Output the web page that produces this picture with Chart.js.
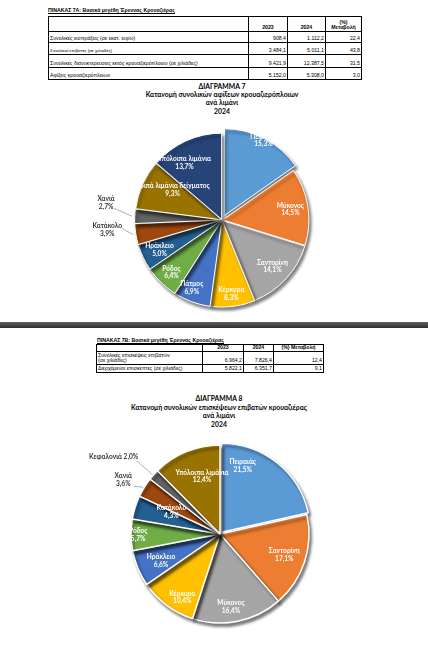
<!DOCTYPE html>
<html><head><meta charset="utf-8">
<script src="https://cdn.jsdelivr.net/npm/chart.js@4.4.1/dist/chart.umd.min.js"></script>
<style>
html,body{margin:0;padding:0;background:#fff;}
body{width:428px;height:648px;position:relative;overflow:hidden;font-family:"Liberation Sans",Arial,sans-serif;color:#000;}
.tt{position:absolute;font-size:5.2px;font-weight:bold;text-decoration:underline;white-space:nowrap;line-height:6px;}
table{border-collapse:collapse;table-layout:fixed;position:absolute;font-size:5.2px;border:1.5px solid #000;}
td{padding:0 1px 0 1px;border-left:1px solid #000;border-right:1px solid #000;border-bottom:1.5px solid #000;white-space:nowrap;vertical-align:bottom;line-height:5.6px;overflow:hidden;}
.num{text-align:right;}
.hd{text-align:center;font-weight:bold;}
.title{position:absolute;text-align:center;font-family:Lato,"Open Sans",sans-serif;font-weight:bold;font-size:6.8px;white-space:nowrap;transform:translateX(-50%);}
.band{position:absolute;left:0;top:322px;width:428px;height:6px;background:linear-gradient(#606060,#2e2e2e);}
canvas{position:absolute;left:0;}
</style></head>
<body>
<div class="tt" style="left:48px;top:7px">ΠΙΝΑΚΑΣ 7Α: Βασικά μεγέθη Έρευνας Κρουαζιέρας</div>
<table id="tA" style="left:48px;top:16px;width:313px"></table>

<div class="title" id="t7" style="left:222px;top:82px;line-height:8.2px"></div>
<canvas id="c7" width="428" height="208" style="top:112px"></canvas>

<div class="band"></div>

<div class="tt" style="left:97px;top:337px">ΠΙΝΑΚΑΣ 7Β: Βασικά μεγέθη Έρευνας Κρουαζιέρας</div>
<table id="tB" style="left:96px;top:344px;width:227px"></table>

<div class="title" id="t8" style="left:219px;top:394px;line-height:8.6px"></div>
<canvas id="c8" width="428" height="210" style="top:428px"></canvas>

<script>
// ---------- data ----------
const yearCols = ['2023', '2024'];
const changeHeadA = ['(%)', 'Μεταβολή'];
const rowsA = ['Συνολικές εισπράξεις (σε εκατ. ευρώ)', 'Συνολικοί επιβάτες (σε χιλιάδες)', 'Συνολικές διανυκτερεύσεις εκτός κρουαζιερόπλοιου (σε χιλιάδες)', 'Αφίξεις κρουαζιερόπλοιων'];
const valsA2023 = [908.4, 3484.1, 9421.9, 5152.0];
const valsA2024 = [1112.2, 5011.1, 12387.5, 5308.0];
const changeA = [22.4, 43.8, 31.5, 3.0];

const rowsB = [['Συνολικές επισκέψεις επιβατών', '(σε χιλιάδες)'], ['Διερχόμενοι επισκέπτες  (σε χιλιάδες)']];
const valsB2023 = [6964.2, 5822.1];
const valsB2024 = [7826.4, 6351.7];
const changeB = [12.4, 9.1];

const title7 = ['ΔΙΑΓΡΑΜΜΑ 7', 'Κατανομή συνολικών αφίξεων κρουαζιερόπλοιων', 'ανά λιμάνι', '2024'];
const ports7 = ['Πειραιάς', 'Μύκονος', 'Σαντορίνη', 'Κέρκυρα', 'Πάτμος', 'Ρόδος', 'Ηράκλειο', 'Κατάκολο', 'Χανιά', 'Λοιπά λιμάνια δείγματος', 'Υπόλοιπα λιμάνια'];
const shares7 = [15.3, 14.5, 14.1, 8.3, 6.9, 6.4, 5.0, 3.9, 2.7, 9.3, 13.7];

const title8 = ['ΔΙΑΓΡΑΜΜΑ 8', 'Κατανομή συνολικών επισκέψεων επιβατών κρουαζιέρας', 'ανά λιμάνι', '2024'];
const ports8 = ['Πειραιάς', 'Σαντορίνη', 'Μύκονος', 'Κέρκυρα', 'Ηράκλειο', 'Ρόδος', 'Κατάκολο', 'Χανιά', 'Κεφαλονιά', 'Υπόλοιπα λιμάνια'];
const shares8 = [21.5, 17.1, 16.4, 10.4, 6.6, 5.7, 4.3, 3.6, 2.0, 12.4];

// ---------- helpers ----------
const palette = ['#5B9BD5', '#ED7D31', '#A5A5A5', '#FFC000', '#4472C4', '#70AD47', '#255E91', '#9E480E', '#636363', '#997300', '#264478'];
function fmt(v) {
  const parts = v.toFixed(1).split('.');
  return parts[0].replace(/\B(?=(\d{3})+(?!\d))/g, '.') + ',' + parts[1];
}

// ---------- tables ----------
(function () {
  const t = document.getElementById('tA');
  let h = '<colgroup><col style="width:200px"><col style="width:39px"><col style="width:38px"><col style="width:36px"></colgroup>';
  h += '<tr style="height:15px"><td></td><td class="hd">' + yearCols[0] + '</td><td class="hd">' + yearCols[1] + '</td><td class="hd">' + changeHeadA[0] + '<br>' + changeHeadA[1] + '</td></tr>';
  const hs = [11, 12, 13, 12];
  rowsA.forEach((r, i) => {
    const fs = i === 1 ? 'font-size:4.4px;' : '';
    h += '<tr style="height:' + hs[i] + 'px"><td style="' + fs + '">' + r + '</td><td class="num">' + fmt(valsA2023[i]) + '</td><td class="num">' + fmt(valsA2024[i]) + '</td><td class="num">' + fmt(changeA[i]) + '</td></tr>';
  });
  t.innerHTML = h;

  const b = document.getElementById('tB');
  let g = '<colgroup><col style="width:106px"><col style="width:41px"><col style="width:30px"><col style="width:50px"></colgroup>';
  g += '<tr style="height:7px"><td></td><td class="hd">' + yearCols[0] + '</td><td class="hd">' + yearCols[1] + '</td><td class="hd">(%) Μεταβολή</td></tr>';
  const hb = [13, 8];
  rowsB.forEach((r, i) => {
    g += '<tr style="height:' + hb[i] + 'px"><td>' + r.join('<br>') + '</td><td class="num">' + fmt(valsB2023[i]) + '</td><td class="num">' + fmt(valsB2024[i]) + '</td><td class="num">' + fmt(changeB[i]) + '</td></tr>';
  });
  b.innerHTML = g;

  document.getElementById('t7').innerHTML = title7.join('<br>');
  document.getElementById('t8').innerHTML = title8.join('<br>');
})();

// ---------- pie label / shadow plugin ----------
const sliceLabels = {
  id: 'sliceLabels',
  beforeDatasetsDraw(chart) {
    const ctx = chart.ctx;
    ctx.save();
    ctx.shadowColor = 'rgba(0,0,0,0.5)';
    ctx.shadowBlur = 3;
    ctx.shadowOffsetX = 2;
    ctx.shadowOffsetY = 3;
  },
  afterDatasetsDraw(chart, args, opts) {
    const ctx = chart.ctx;
    ctx.restore();
    const meta = chart.getDatasetMeta(0);
    const labels = chart.data.labels;
    const data = chart.data.datasets[0].data;
    ctx.save();
    ctx.font = 'bold 6.6px Lato, "Open Sans", sans-serif';
    ctx.textAlign = 'center';
    ctx.textBaseline = 'middle';
    meta.data.forEach((arc, i) => {
      const p = arc.getProps(['x', 'y', 'startAngle', 'endAngle', 'outerRadius'], true);
      const mid = (p.startAngle + p.endAngle) / 2;
      const off = arc.options.offset || 0;
      const pct = fmt(data[i]) + '%';
      const out = opts.outside && opts.outside[i];
      if (out) {
        const ex = p.x + Math.cos(mid) * (p.outerRadius + off);
        const ey = p.y + Math.sin(mid) * (p.outerRadius + off);
        const lx = ex + out.dx, ly = ey + out.dy;
        ctx.strokeStyle = '#8c8c8c';
        ctx.lineWidth = 0.7;
        ctx.beginPath();
        ctx.moveTo(lx + out.ldx, ly + out.ldy);
        ctx.lineTo(ex - 1, ey);
        ctx.stroke();
        ctx.fillStyle = '#333333';
        if (out.single) {
          ctx.fillText(labels[i] + ' ' + pct, lx, ly);
        } else {
          ctx.fillText(labels[i], lx, ly - 4);
          ctx.fillText(pct, lx, ly + 4);
        }
      } else {
        const adj = (opts.inside && opts.inside[i]) || {};
        const f = adj.f || 0.8;
        const a = mid + (adj.a || 0) * Math.PI / 180;
        const cx = p.x + Math.cos(mid) * off, cy = p.y + Math.sin(mid) * off;
        const lx = cx + Math.cos(a) * p.outerRadius * f;
        const ly = cy + Math.sin(a) * p.outerRadius * f;
        ctx.fillStyle = '#ffffff';
        ctx.fillText(labels[i], lx, ly - 3.8);
        ctx.fillText(pct, lx, ly + 3.8);
      }
    });
    ctx.restore();
  }
};

function makePie(id, labels, values, cfg) {
  return new Chart(document.getElementById(id), {
    type: 'pie',
    data: {
      labels: labels,
      datasets: [{
        data: values,
        backgroundColor: palette.slice(0, values.length),
        borderColor: '#ffffff',
        borderWidth: cfg.borderWidth,
        offset: cfg.offsets,
        clip: false
      }]
    },
    options: {
      responsive: false,
      animation: false,
      radius: cfg.radius,
      layout: { padding: cfg.padding },
      plugins: {
        legend: { display: false },
        tooltip: { enabled: false },
        sliceLabels: { inside: cfg.inside, outside: cfg.outside }
      },
      events: []
    },
    plugins: [sliceLabels]
  });
}

makePie('c7', ports7, shares7, {
  radius: 86,
  borderWidth: 1,
  offsets: [20, 3, 3, 3, 3, 3, 3, 3, 3, 3, 3],
  padding: { left: 16, right: 0, top: 8, bottom: 0 },
  inside: {
    0: { f: 0.81 }, 1: { f: 0.77 }, 2: { f: 0.76 }, 3: { f: 0.83 }, 4: { f: 0.83, a: 4 },
    5: { f: 0.81 }, 6: { f: 0.77 }, 9: { f: 0.64, a: 8 }, 10: { f: 0.76, a: -9 }
  },
  outside: {
    7: { dx: -27, dy: -5, ldx: 15, ldy: -1 },
    8: { dx: -27, dy: -13.5, ldx: 8, ldy: 5.5 }
  }
});

makePie('c8', ports8, shares8, {
  radius: 89,
  borderWidth: 1.5,
  offsets: [9, 0, 0, 0, 0, 0, 0, 0, 0, 0],
  padding: { left: 12, right: 0, top: 2, bottom: 0 },
  inside: {
    0: { f: 0.71, a: -23 }, 1: { f: 0.76 }, 2: { f: 0.83, a: 3 }, 3: { f: 0.83, a: -6 },
    4: { f: 0.73, a: -2 }, 5: { f: 0.92 }, 6: { f: 0.6, a: 7 }, 9: { f: 0.68, a: 5 }
  },
  outside: {
    7: { dx: -21, dy: -7, ldx: 11, ldy: 6 },
    8: { dx: -40, dy: -18, ldx: 23, ldy: 4, single: true }
  }
});
</script>
</body></html>
